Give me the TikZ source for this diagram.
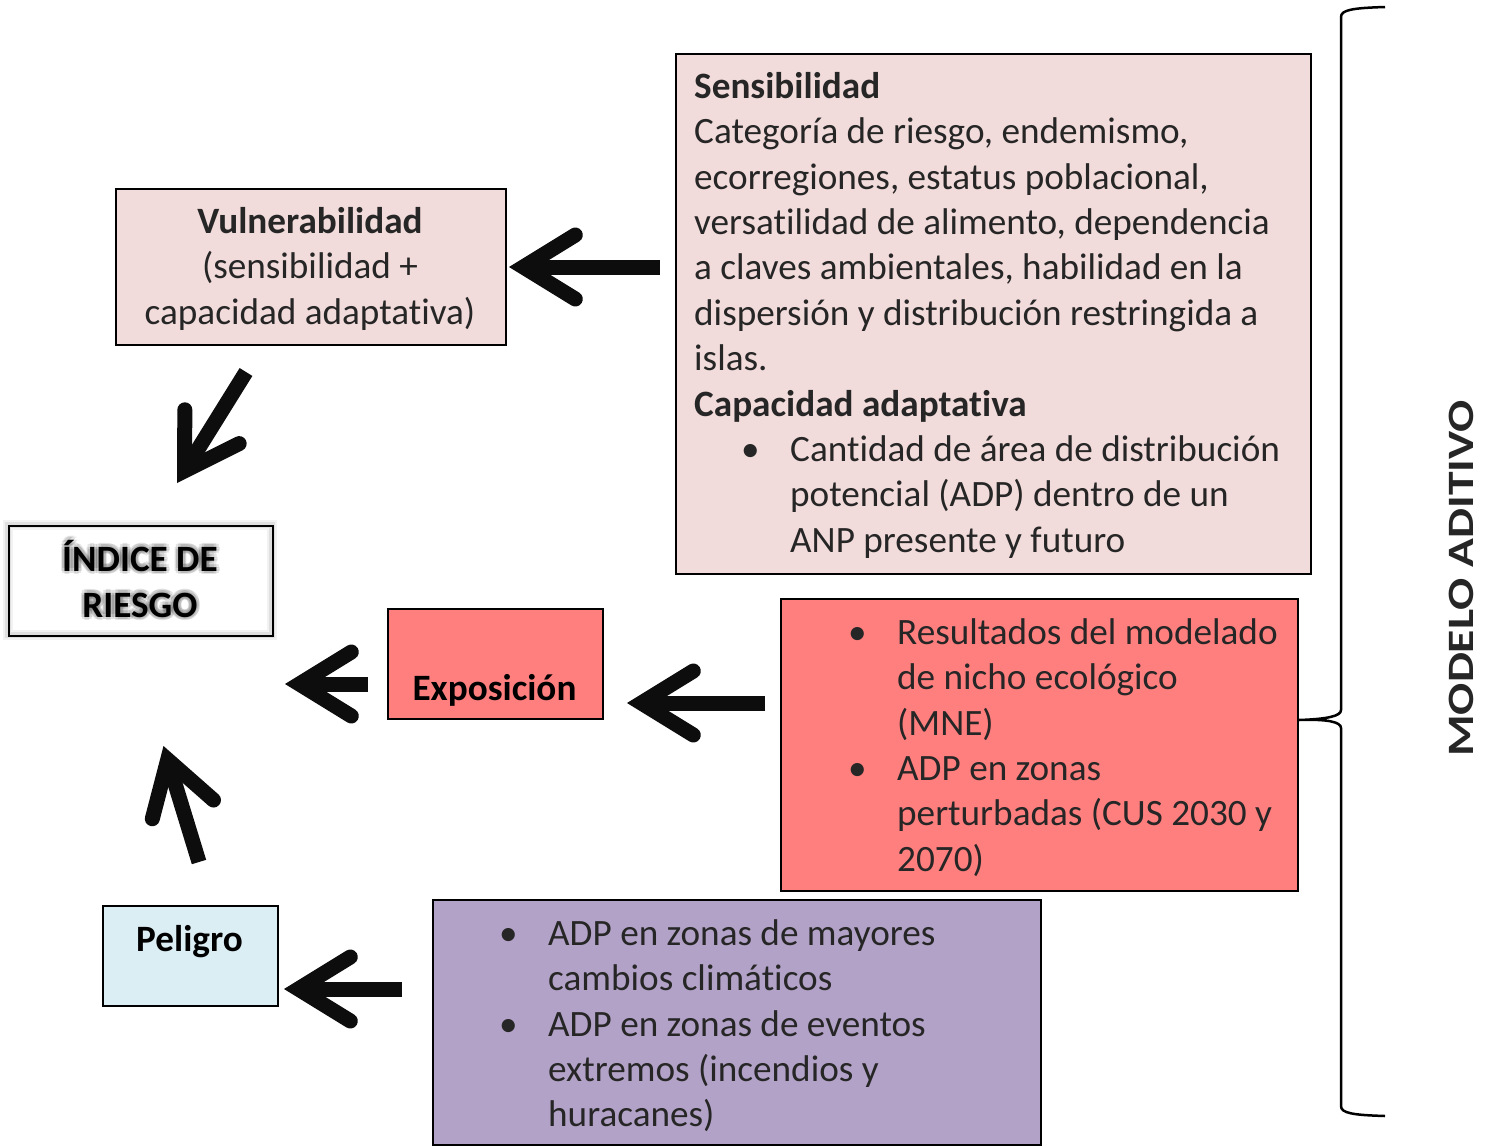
\documentclass[tikz,border=0pt]{standalone}
\usepackage{fontspec}
\setmainfont{Carlito}[Ligatures={NoCommon,NoRare}, RawFeature={-liga;-clig;-dlig;-calt}]
\usetikzlibrary{arrows.meta,calc}
\definecolor{pinkbox}{HTML}{F2DCDB}
\definecolor{redbox}{HTML}{FF7F7F}
\definecolor{bluebox}{HTML}{DBEEF4}
\definecolor{purplebox}{HTML}{B3A2C7}
\definecolor{txt}{HTML}{262626}
\tikzset{
  box/.style={draw=black, line width=2pt, rectangle, inner sep=0pt, anchor=north west},
  bodytext/.style={font=\fontsize{37.2}{45.4}\selectfont, text=txt, inner sep=0pt, anchor=north west, align=left},
  glowtext/.style={font=\bfseries\fontsize{37.2}{46}\selectfont, align=center, inner sep=0pt, anchor=north},
  bigarrow/.style={line width=15pt, draw=black!95, -{Straight Barb[length=52pt, width=64pt, line cap=round, line join=miter]}},
}
\newcommand{\blt}{\makebox[96pt][l]{\hspace{47pt}•}}
\newcommand{\ind}{\hspace*{96pt}}
\begin{document}
\begin{tikzpicture}[x=1pt, y=-1pt]
\useasboundingbox (0,0) rectangle (1491,1146);

% boxes
\node[box, fill=pinkbox, minimum width=635pt, minimum height=520pt] (sens) at (675,53) {};
\node[box, fill=pinkbox, minimum width=390pt, minimum height=156pt] (vul) at (115,188) {};
\node[box, fill=redbox, minimum width=215pt, minimum height=110pt] (expo) at (387,608) {};
\node[box, fill=redbox, minimum width=517pt, minimum height=292pt] (red) at (780,598) {};
\node[box, fill=bluebox, minimum width=175pt, minimum height=100pt] (pel) at (102,905) {};
\node[box, fill=purplebox, minimum width=608pt, minimum height=245pt] (purp) at (432,899) {};

% index box with soft shadow
\draw[line width=10pt, black, opacity=0.05] (8,525) rectangle (272,635);
\draw[line width=6pt, black, opacity=0.08] (8,525) rectangle (272,635);
\node[box, fill=none, minimum width=264pt, minimum height=110pt] (idx) at (8,525) {};
\foreach \a in {0,45,...,315}{
  \node[glowtext, text=black, opacity=0.10] at ($(140,537)+(\a:3.5pt)$) {\rule{0pt}{34pt}ÍNDICE DE\\RIESGO};
}
\node[glowtext, text=black] (idxt) at (140,537) {\rule{0pt}{34pt}ÍNDICE DE\\RIESGO};

% texts
\node[bodytext] (senst) at (694,64) {\rule{0pt}{34pt}\textbf{Sensibilidad}\\
Categoría de riesgo, endemismo,\\
ecorregiones, estatus poblacional,\\
versatilidad de alimento, dependencia\\
a claves ambientales, habilidad en la\\
dispersión y distribución restringida a\\
islas.\\
\textbf{Capacidad adaptativa}\\
\blt Cantidad de área de distribución\\
\ind potencial (ADP) dentro de un\\
\ind ANP presente y futuro};

\node[bodytext, align=center, anchor=north] (vult) at (310,199) {\rule{0pt}{34pt}\textbf{Vulnerabilidad}\\
(sensibilidad +\\
capacidad adaptativa)};

\node[bodytext, anchor=base, text=black] (expot) at (494.5,700) {\textbf{Exposición}};
\node[bodytext, anchor=base, text=black] (pelt) at (189.5,951) {\textbf{Peligro}};

\node[bodytext] (redt) at (801,610) {\rule{0pt}{34pt}\blt Resultados del modelado\\
\ind de nicho ecológico\\
\ind (MNE)\\
\blt ADP en zonas\\
\ind perturbadas (CUS 2030 y\\
\ind 2070)};

\node[bodytext] (purpt) at (452,911) {\rule{0pt}{34pt}\blt ADP en zonas de mayores\\
\ind cambios climáticos\\
\blt ADP en zonas de eventos\\
\ind extremos (incendios y\\
\ind huracanes)};

\node[font=\bfseries\fontsize{37.2}{45.4}\selectfont, text=txt, rotate=90, anchor=base, inner sep=0pt] (model) at (1473,578.5) {\scalebox{1.28}[1.0]{MODELO ADITIVO}};

% brace
\coordinate (bt) at ($(red.east)+(0,-25)$);
\draw[line width=2.5pt, black]
  (1385,7) .. controls (1352,8) and (1341,10) .. (1341,17)
  -- (1341,710) .. controls (1341,716) and (1328,719) .. (bt)
  .. controls (1328,719) and (1341,722) .. (1341,728)
  -- (1341,1106) .. controls (1341,1113) and (1352,1115) .. (1385,1116);

% arrows
\coordinate (a1s) at ($(sens.west |- vul.east)+(-15,0)$);
\coordinate (a1e) at ($(vul.east)+(2,0)$);
\draw[bigarrow] (a1s) -- (a1e);
\coordinate (a2s) at ($(vul.south)+(-65,26)$);
\coordinate (a2e) at ($(idx.north)+(36,-42)$);
\draw[bigarrow] (a2s) -- (a2e);
\coordinate (a3s) at ($(expo.west)+(-19,20)$);
\coordinate (a3e) at ($(idx.east)+(11,103)$);
\draw[bigarrow] (a3s) -- (a3e);
\coordinate (a4s) at ($(red.west)+(-15,-42)$);
\coordinate (a4e) at ($(expo.east)+(23,39)$);
\draw[bigarrow] (a4s) -- (a4e);
\coordinate (a5s) at ($(pel.north)+(8.5,-43)$);
\coordinate (a5e) at ($(pel.north)+(-27,-159)$);
\draw[bigarrow] (a5s) -- (a5e);
\coordinate (a6s) at ($(purp.west)+(-30,-33.5)$);
\coordinate (a6e) at ($(pel.east)+(5,33)$);
\draw[bigarrow] (a6s) -- (a6e);
\end{tikzpicture}
\end{document}
